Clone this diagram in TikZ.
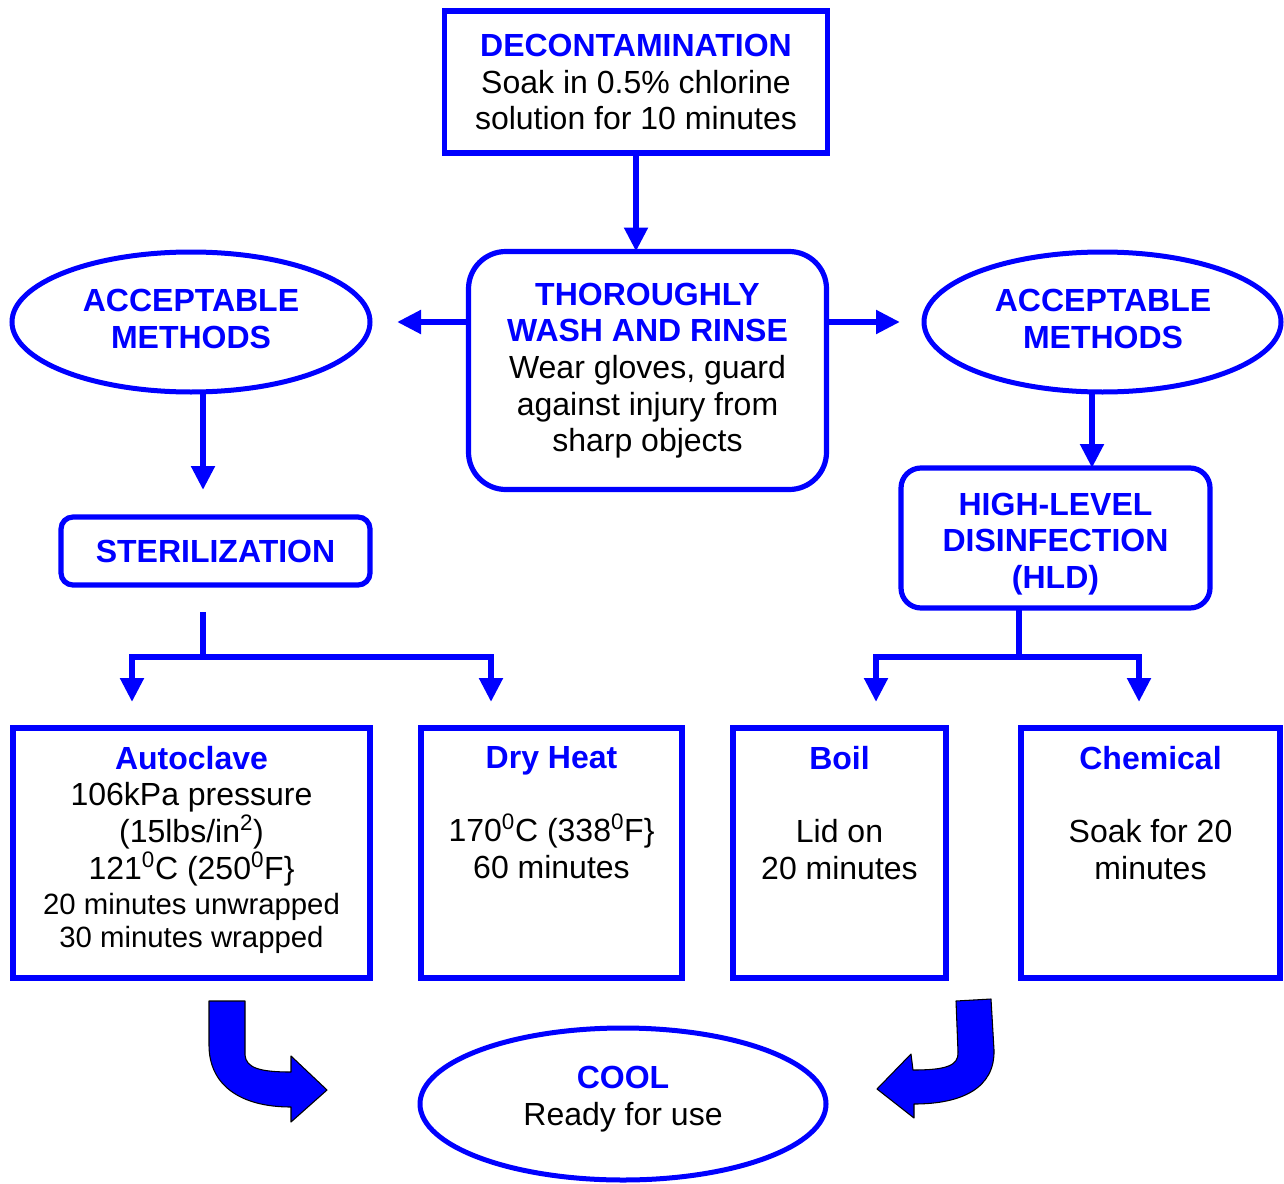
\documentclass[tikz,border=0pt]{standalone}
\usepackage{fontspec}
\setmainfont{Liberation Sans}
\usetikzlibrary{arrows.meta,shapes.geometric}
\definecolor{mblue}{RGB}{0,0,255}
\newcommand\hdr[1]{\textcolor{mblue}{\bfseries #1}}
\begin{document}
\begin{tikzpicture}[x=0.75pt,y=-0.75pt,
  base/.style={font=\fontsize{24}{27.5}\selectfont, align=center, inner sep=0pt, outer sep=0pt},
  box/.style={base, draw=mblue, line width=3.9pt, rectangle},
  ell/.style={base, draw=mblue, line width=3.75pt, ellipse},
  conn/.style={draw=mblue, line width=4.5pt},
  arr/.style={conn, -{Triangle[length=18pt,width=17pt]}},
  block/.style={fill=mblue, draw=black, line width=0.8pt, line join=round}
]
\useasboundingbox (0,0) rectangle (1284,1184);

% boxes
\node[box, minimum width=287.25pt, minimum height=106.5pt] (decon) at (636,82)
  {\hdr{DECONTAMINATION}\\Soak in 0.5\% chlorine\\solution for 10 minutes};
\node[box, rounded corners=28pt, minimum width=268.5pt, minimum height=178.5pt] (wash) at (647.5,370.5)
  {\hdr{THOROUGHLY}\\\hdr{WASH AND RINSE}\\Wear gloves, guard\\against injury from\\sharp objects};
\node[ell, minimum width=268.5pt, minimum height=105pt] (lell) at (191,322) {};
\node[base] (lellt) at (191,319) {\hdr{ACCEPTABLE}\\\hdr{METHODS}};
\node[ell, minimum width=267.75pt, minimum height=105pt] (rell) at (1102.5,322) {};
\node[base] (rellt) at (1103,319) {\hdr{ACCEPTABLE}\\\hdr{METHODS}};
\node[box, rounded corners=9pt, minimum width=231.75pt, minimum height=51pt] (steril) at (215.5,551)
  {\hdr{STERILIZATION}};
\node[box, rounded corners=15pt, minimum width=231.75pt, minimum height=105pt] (hld) at (1055.5,538) {};
\node[base] (hldt) at (1055.5,544) {\hdr{HIGH-LEVEL}\\\hdr{DISINFECTION}\\\hdr{(HLD)}};

\node[box, minimum width=267.75pt, minimum height=187.5pt] (auto) at (191.5,853) {};
\node[box, minimum width=195.75pt, minimum height=187.5pt] (dry) at (551.5,853) {};
\node[box, minimum width=159.75pt, minimum height=187.5pt] (boil) at (839.5,853) {};
\node[box, minimum width=194.25pt, minimum height=187.5pt] (chem) at (1150.5,853) {};

\node[base, anchor=north] (autot) at ([yshift=-13.5pt]auto.north)
  {\hdr{Autoclave}\\106kPa pressure\\(15lbs/in\textsuperscript{2})\\121\textsuperscript{0}C (250\textsuperscript{0}F\}};
\node[base, font=\fontsize{22}{24.75}\selectfont] (autob) at ([yshift=-52.5pt]auto.center)
  {20 minutes unwrapped\\30 minutes wrapped};
\node[base, anchor=north] (dryt) at ([yshift=-13.5pt]dry.north)
  {\hdr{Dry Heat}\\[27.5pt]170\textsuperscript{0}C (338\textsuperscript{0}F\}\\60 minutes};
\node[base, anchor=north] (boilt) at ([yshift=-13.5pt]boil.north)
  {\hdr{Boil}\\[27.5pt]Lid on\\20 minutes};
\node[base, anchor=north] (chemt) at ([yshift=-13.5pt]chem.north)
  {\hdr{Chemical}\\[27.5pt]Soak for 20\\minutes};

\node[ell, minimum width=304.5pt, minimum height=114pt] (cool) at (623,1104) {};
\node[base] (coolt) at (623,1099) {\hdr{COOL}\\Ready for use};

% connectors
\draw[arr] (decon.south) -- (decon.south |- wash.north);
\draw[arr, shorten >=20.25pt] (wash.west |- lell.east) -- (lell.east);
\draw[arr, shorten >=18pt] (wash.east |- rell.west) -- (rell.west);
\draw[arr, shorten >=20.25pt] ([xshift=9pt]lell.south) -- ([xshift=9pt]lell.south |- steril.north);
\draw[arr] ([xshift=-7.875pt]rell.south) -- ([xshift=-7.875pt]rell.south |- hld.north);

\coordinate (lstem) at (203,612);
\coordinate (ls) at (203,657);
\coordinate (la) at (132,702);
\coordinate (lb) at (491,702);
\draw[conn] (lstem) -- (ls);
\draw[arr] (ls) -| (la);
\draw[arr] (ls) -| (lb);

\coordinate (rs) at (1019,657);
\coordinate (ra) at (876,702);
\coordinate (rb) at (1139,702);
\draw[conn] (hld.south -| rs) -- (rs);
\draw[arr] (rs) -| (ra);
\draw[arr] (rs) -| (rb);

% curved block arrows
\path[block] (209,1001) -- (245,1001) -- (245,1055)
  .. controls (246,1068) and (260,1072) .. (291,1072)
  -- (291,1056) -- (327,1090) -- (291,1122) -- (291,1107)
  .. controls (240,1107) and (209,1085) .. (209,1045) -- cycle;
\path[block] (991,999) -- (956,1001) -- (958,1052)
  .. controls (959,1066) and (945,1070) .. (913,1070)
  -- (911,1054) -- (877,1089) -- (914,1118) -- (914,1104)
  .. controls (962,1104) and (995,1088) .. (994,1050) -- cycle;
\end{tikzpicture}
\end{document}
